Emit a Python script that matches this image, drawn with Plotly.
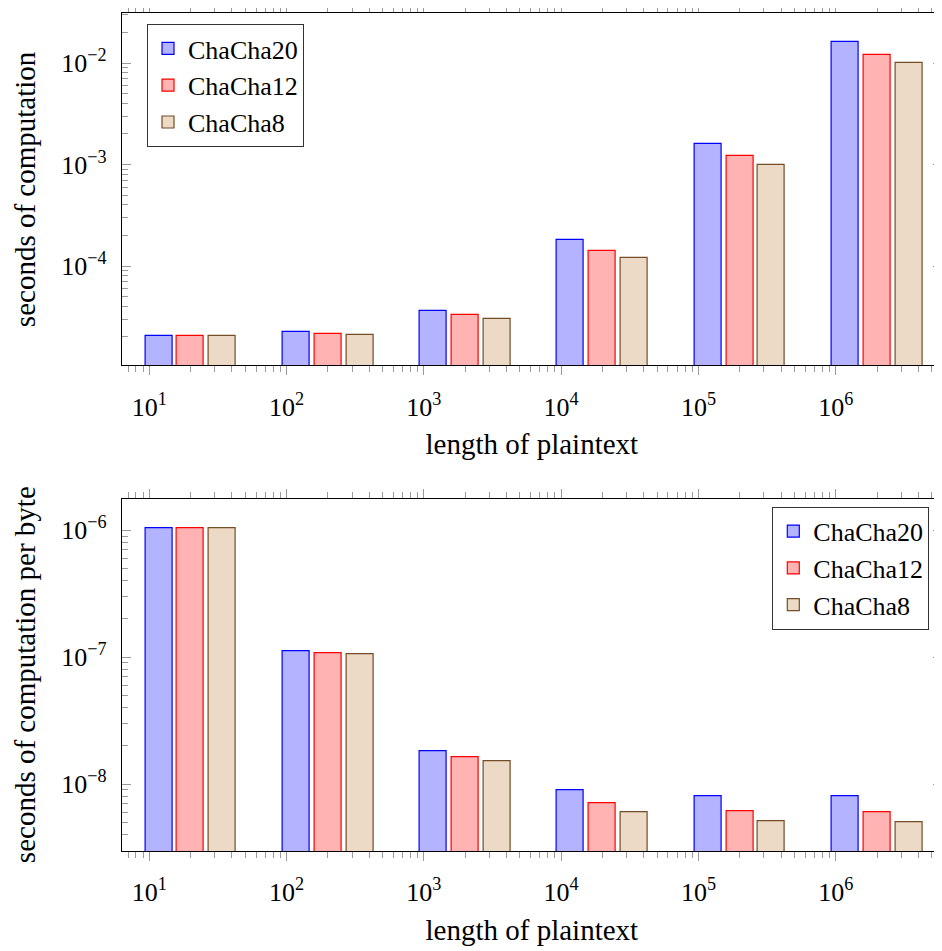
import plotly.graph_objects as go

# ---- data ----
lengths = [20, 200, 2000, 20000, 200000, 2000000]
series_names = ["ChaCha20", "ChaCha12", "ChaCha8"]

total_chacha20 = [2.04e-5, 2.22e-5, 3.60e-5, 1.79e-4, 1.60e-3, 1.60e-2]
total_chacha12 = [2.04e-5, 2.14e-5, 3.27e-5, 1.40e-4, 1.21e-3, 1.21e-2]
total_chacha8 = [2.04e-5, 2.09e-5, 3.03e-5, 1.21e-4, 1.00e-3, 1.00e-2]

perbyte_chacha20 = [1.03e-6, 1.11e-7, 1.80e-8, 8.9e-9, 8.0e-9, 8.0e-9]
perbyte_chacha12 = [1.03e-6, 1.07e-7, 1.62e-8, 7.0e-9, 6.05e-9, 6.0e-9]
perbyte_chacha8 = [1.03e-6, 1.05e-7, 1.52e-8, 6.0e-9, 5.05e-9, 5.0e-9]

x_tick_vals = [10, 100, 1000, 10000, 100000, 1000000]
x_tick_text = ["10<sup>1</sup>", "10<sup>2</sup>", "10<sup>3</sup>",
               "10<sup>4</sup>", "10<sup>5</sup>", "10<sup>6</sup>"]
top_y_tick_vals = [1e-4, 1e-3, 1e-2]
top_y_tick_text = ["10<sup>−4</sup>", "10<sup>−3</sup>", "10<sup>−2</sup>"]
bot_y_tick_vals = [1e-8, 1e-7, 1e-6]
bot_y_tick_text = ["10<sup>−8</sup>", "10<sup>−7</sup>", "10<sup>−6</sup>"]

x_title = "length of plaintext"
top_y_title = "seconds of computation"
bot_y_title = "seconds of computation per byte"

# ---- style ----
fills = ["rgb(179,179,255)", "rgb(255,179,179)", "rgb(236,217,198)"]
edges = ["rgb(0,0,255)", "rgb(255,0,0)", "rgb(115,77,38)"]
SHIFT = 0.232   # bar shift in decades (log-space, like pgfplots pt shift)
HALF = 0.0985   # half bar width in decades
FONT = "Liberation Serif"
TICKC = "#9a9a9a"

# the page body has an 8px margin, so the figure sits 8px in from the window corner
OFF = 8
W, H = 942 - OFF, 951 - OFF

def fx(px):
    return (px - OFF) / W

def fy(py):
    return 1 - (py - OFF) / H

def minor_vals(lo, hi):
    out = []
    for e in range(lo, hi + 1):
        for m in range(2, 10):
            out.append(m * 10.0 ** e)
    return out

fig = go.Figure()

panels = [
    ("x", "y", "legend", [total_chacha20, total_chacha12, total_chacha8]),
    ("x2", "y2", "legend2", [perbyte_chacha20, perbyte_chacha12, perbyte_chacha8]),
]
for xa, ya, lg, vals in panels:
    for k, (name, v) in enumerate(zip(series_names, vals)):
        s = (k - 1) * SHIFT
        offs = [L * (10 ** (s - HALF) - 1) for L in lengths]
        wids = [L * (10 ** (s + HALF) - 10 ** (s - HALF)) for L in lengths]
        fig.add_trace(go.Bar(
            x=lengths, y=v, name=name, offset=offs, width=wids,
            marker=dict(color=fills[k], line=dict(color=edges[k], width=1.2)),
            xaxis=xa, yaxis=ya, legend=lg, legendgroup=lg + name,
        ))

top_dom = [fy(365.3), fy(13)]
bot_dom = [fy(851), fy(499.3)]

xcommon = dict(
    type="log", range=[0.799, 6.774], domain=[fx(121.7), 1.0], automargin=False,
    tickmode="array", tickvals=x_tick_vals, ticktext=x_tick_text,
    ticks="outside", ticklen=9, tickwidth=1, tickcolor=TICKC,
    minor=dict(tickmode="array", tickvals=minor_vals(0, 6), ticks="outside",
               ticklen=6, tickwidth=1, tickcolor=TICKC),
    showline=True, linecolor="black", linewidth=1, mirror="ticks",
    showgrid=False, zeroline=False,
    tickfont=dict(family=FONT, size=26, color="black"),
    ticklabelstandoff=9,
    title=dict(text=x_title, font=dict(family=FONT, size=29, color="black"), standoff=13),
)
ycommon = dict(
    type="log", tickmode="array", automargin=False,
    ticks="inside", ticklen=9, tickwidth=1, tickcolor=TICKC,
    showline=True, linecolor="black", linewidth=1, mirror="ticks",
    showgrid=False, zeroline=False,
    tickfont=dict(family=FONT, size=26, color="black"),
    ticklabelstandoff=9,
)

legend_common = dict(
    bgcolor="white", bordercolor="#333", borderwidth=1,
    font=dict(family=FONT, size=26, color="black"),
    traceorder="grouped", tracegroupgap=0,
    entrywidthmode="pixels", entrywidth=130,
)

ytitle_font = dict(family=FONT, size=29, color="black")

fig.update_layout(
    width=W, height=H,
    margin=dict(l=0, r=0, t=0, b=0, autoexpand=False),
    paper_bgcolor="white", plot_bgcolor="white",
    barmode="overlay", bargap=0,
    font=dict(family=FONT, color="black"),
    xaxis=dict(xcommon, anchor="y"),
    xaxis2=dict(xcommon, anchor="y2"),
    yaxis=dict(ycommon, domain=top_dom, anchor="x", range=[-4.978, -1.507],
               tickvals=top_y_tick_vals, ticktext=top_y_tick_text,
               minor=dict(tickmode="array", tickvals=minor_vals(-6, -1), ticks="inside",
                          ticklen=6, tickwidth=1, tickcolor=TICKC)),
    yaxis2=dict(ycommon, domain=bot_dom, anchor="x2", range=[-8.528, -5.756],
                tickvals=bot_y_tick_vals, ticktext=bot_y_tick_text,
                minor=dict(tickmode="array", tickvals=minor_vals(-10, -5), ticks="inside",
                           ticklen=6, tickwidth=1, tickcolor=TICKC)),
    legend=dict(legend_common, x=fx(147), y=fy(24), xanchor="left", yanchor="top"),
    legend2=dict(legend_common, x=fx(929.3), y=fy(506.7), xanchor="right", yanchor="top"),
    annotations=[
        dict(text=top_y_title, textangle=-90, font=ytitle_font, showarrow=False,
             xref="paper", yref="paper", x=fx(25), y=sum(top_dom) / 2,
             xanchor="center", yanchor="middle"),
        dict(text=bot_y_title, textangle=-90, font=ytitle_font, showarrow=False,
             xref="paper", yref="paper", x=fx(25), y=sum(bot_dom) / 2,
             xanchor="center", yanchor="middle"),
    ],
)

fig.write_html("out.html")
